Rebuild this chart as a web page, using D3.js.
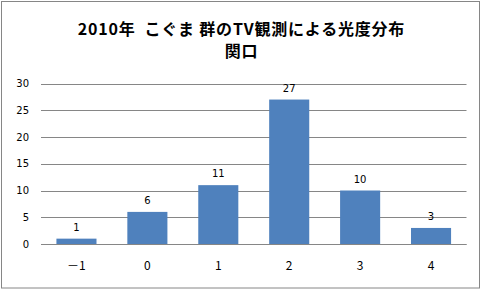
<!DOCTYPE html>
<html>
<head>
<meta charset="utf-8">
<script src="https://cdn.jsdelivr.net/npm/d3@7"></script>
<style>
  body { margin: 0; background: #fff; }
  svg { display: block; }
</style>
</head>
<body>
<div id="chart"></div>
<script>
// data
const categories = ['－1', '0', '1', '2', '3', '4'];
const counts = [1, 6, 11, 27, 10, 3];
const yTicks = [0, 5, 10, 15, 20, 25, 30];
const titleLines = ['2010年  こぐま 群のTV観測による光度分布', '関口'];

const width = 483, height = 291;
const margin = { top: 83.5, right: 16.5, bottom: 47, left: 41 };

const svg = d3.select('#chart').append('svg')
    .attr('width', width)
    .attr('height', height);

// outer frame
svg.append('rect')
    .attr('x', 1.5).attr('y', 1.5)
    .attr('width', 478).attr('height', 286.5)
    .attr('fill', '#fff')
    .attr('stroke', '#868686')
    .attr('stroke-width', 1);

const x = d3.scaleBand()
    .domain(categories)
    .range([margin.left, width - margin.right])
    .paddingInner(0.435)
    .paddingOuter(0.2175);

const y = d3.scaleLinear()
    .domain([0, 30])
    .range([height - margin.bottom, margin.top]);

// gridlines
svg.append('g')
    .selectAll('line')
    .data(yTicks)
    .join('line')
    .attr('x1', margin.left)
    .attr('x2', width - margin.right)
    .attr('y1', d => Math.round(y(d)) + 0.5)
    .attr('y2', d => Math.round(y(d)) + 0.5)
    .attr('stroke', '#868686')
    .attr('stroke-width', 1);

// y tick labels
svg.append('g')
    .selectAll('text')
    .data(yTicks)
    .join('text')
    .attr('x', 29)
    .attr('y', d => y(d))
    .attr('dy', '0.35em')
    .attr('text-anchor', 'end')
    .attr('font-family', 'DejaVu Sans, Verdana, sans-serif')
    .attr('font-size', '10px')
    .attr('fill', '#000')
    .text(d => d);

// bars
svg.append('g')
    .selectAll('rect')
    .data(counts)
    .join('rect')
    .attr('x', (d, i) => x(categories[i]))
    .attr('width', x.bandwidth())
    .attr('y', d => y(d))
    .attr('height', d => y(0) - y(d))
    .attr('fill', '#4f81bd');

// baseline on top of bars
svg.append('line')
    .attr('x1', margin.left)
    .attr('x2', width - margin.right)
    .attr('y1', Math.round(y(0)) + 0.5)
    .attr('y2', Math.round(y(0)) + 0.5)
    .attr('stroke', '#868686');

// value labels
svg.append('g')
    .selectAll('text')
    .data(counts)
    .join('text')
    .attr('x', (d, i) => x(categories[i]) + x.bandwidth() / 2)
    .attr('y', d => y(d) - 8)
    .attr('text-anchor', 'middle')
    .attr('font-family', 'DejaVu Sans, Verdana, sans-serif')
    .attr('font-size', '10px')
    .attr('fill', '#000')
    .text(d => d);

// x category labels
svg.append('g')
    .selectAll('text')
    .data(categories)
    .join('text')
    .attr('x', d => x(d) + x.bandwidth() / 2)
    .attr('y', 266)
    .attr('dy', '0.35em')
    .attr('text-anchor', 'middle')
    .attr('font-family', '"Noto Sans CJK JP", sans-serif')
    .attr('font-size', '12px')
    .attr('fill', '#000')
    .text(d => d);

// title
svg.append('g')
    .selectAll('text')
    .data(titleLines)
    .join('text')
    .attr('x', width / 2)
    .attr('y', (d, i) => 35 + i * 22)
    .attr('text-anchor', 'middle')
    .attr('font-family', '"Noto Sans CJK JP", sans-serif')
    .attr('font-size', '16px')
    .attr('font-weight', 'bold')
    .attr('letter-spacing', '0.8px')
    .style('white-space', 'pre')
    .attr('fill', '#000')
    .text(d => d);
</script>
</body>
</html>
